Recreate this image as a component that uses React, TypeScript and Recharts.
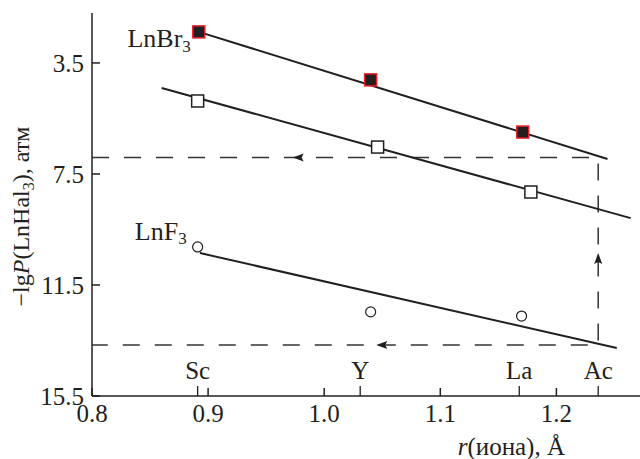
import { Scatter, ScatterChart, XAxis, YAxis } from "recharts";

const FONT = "Liberation Serif, Times New Roman, serif";
const INK = "#231f20";
const RED = "#e8202a";

// measured points, x = ionic radius (Å), y = -lgP
const brX = [0.892, 1.04, 1.171];
const brY = [2.38, 4.11, 5.99];
const openX = [0.891, 1.046, 1.178];
const openY = [4.87, 6.53, 8.15];
const fX = [0.891, 1.04, 1.17];
const fY = [10.13, 12.47, 12.62];

// straight-line fits, end points
const brFitX = [0.892, 1.244];
const brFitY = [2.38, 6.96];
const openFitX = [0.86, 1.264];
const openFitY = [4.4, 9.09];
const fFitX = [0.893, 1.252];
const fFitY = [10.35, 13.77];

// element radii marked on the x axis
const elements = ["Sc", "Y", "La", "Ac"];
const elementR = [0.891, 1.031, 1.168, 1.236];

// extrapolation for Ac (dashed guide)
const acBr = 6.91;
const acF = 13.66;
const arrowX = [0.978, 1.05, 1.236];
const arrowY = [6.91, 13.66, 10.56];
const arrowDir = ["left", "left", "up"];

const xTicks = [0.8, 0.9, 1.0, 1.1, 1.2];
const yTicks = [3.5, 7.5, 11.5, 15.5];

const zip = (xs: number[], ys: number[]) => xs.map((x, i) => ({ x, y: ys[i] }));

const brPts = zip(brX, brY);
const openPts = zip(openX, openY);
const fPts = zip(fX, fY);
const acR = elementR[3];
const guidePts = zip([0.8, acR, acR, 0.8], [acBr, acBr, acF, acF]);
const elementPts = elements.map((name, i) => ({ x: elementR[i], y: yTicks[yTicks.length - 1], name }));
const arrowPts = arrowX.map((x, i) => ({ x, y: arrowY[i], dir: arrowDir[i] }));

const none = () => <g />;

function FilledSquare(p: any) {
  return <rect x={p.cx - 6} y={p.cy - 6} width={12} height={12} fill={INK} stroke={RED} strokeWidth={1.5} />;
}
function OpenSquare(p: any) {
  return <rect x={p.cx - 6} y={p.cy - 6} width={12} height={12} fill="#fff" stroke={INK} strokeWidth={1.5} />;
}
function OpenCircle(p: any) {
  return <circle cx={p.cx} cy={p.cy} r={5} fill="#fff" stroke={INK} strokeWidth={1.2} />;
}

function ElementTick(p: any) {
  return (
    <g>
      <line x1={p.cx} x2={p.cx} y1={p.cy} y2={p.cy - 10} stroke={INK} strokeWidth={1.3} />
      <text x={p.cx} y={p.cy - 17} textAnchor="middle" style={{ fontFamily: FONT }} fontSize={25} fill={INK}>
        {p.payload.name}
      </text>
    </g>
  );
}

function Arrow(p: any) {
  const { cx, cy } = p;
  const d = p.payload.dir === "up"
    ? `M${cx},${cy - 6} L${cx + 4},${cy + 5} L${cx},${cy + 3} L${cx - 4},${cy + 5} Z`
    : `M${cx - 6},${cy} L${cx + 5},${cy - 4} L${cx + 3},${cy} L${cx + 5},${cy + 4} Z`;
  return <path d={d} fill={INK} />;
}

function BrLabel(p: any) {
  return (
    <text x={p.cx - 8} y={p.cy + 15} textAnchor="end" style={{ fontFamily: FONT }} fontSize={26} fill={INK}>
      LnBr<tspan fontSize={17} dy={5}>3</tspan>
    </text>
  );
}
function FLabel(p: any) {
  return (
    <text x={p.cx - 11} y={p.cy - 7} textAnchor="end" style={{ fontFamily: FONT }} fontSize={26} fill={INK}>
      LnF<tspan fontSize={17} dy={4}>3</tspan>
    </text>
  );
}

function YTitle({ viewBox }: any) {
  const cx = viewBox.x + 29;
  const cy = viewBox.y + viewBox.height / 2 + 12;
  return (
    <text x={cx} y={cy} transform={`rotate(-90 ${cx} ${cy})`} textAnchor="middle"
      style={{ fontFamily: FONT }} fontSize={24} fill={INK}>
      −lg<tspan fontStyle="italic">P</tspan>(LnHal<tspan fontSize={16} dy={5}>3</tspan>
      <tspan dy={-5}>), атм</tspan>
    </text>
  );
}

function XTitle({ viewBox }: any) {
  return (
    <text x={viewBox.x + viewBox.width - 75} y={viewBox.y + 59} textAnchor="end"
      style={{ fontFamily: FONT }} fontSize={25} fill={INK}>
      <tspan fontStyle="italic">r</tspan>(иона), Å
    </text>
  );
}

const tickStyle = { fontSize: 25, fill: INK, fontFamily: FONT, style: { fontFamily: FONT } };

export default function App() {
  return (
    <div style={{ width: 640, height: 459, background: "#fff", fontFamily: FONT }}>
      <style>{"body{margin:0} svg text{font-family:'Liberation Serif','Times New Roman',serif}"}</style>
      <ScatterChart width={640} height={459} margin={{ top: 13, right: 0, bottom: 0, left: 0 }}
        style={{ fontFamily: FONT }}>
        <XAxis type="number" dataKey="x" domain={[0.8, 1.272]} ticks={xTicks} interval={0}
          allowDataOverflow tickFormatter={(v) => v.toFixed(1)} height={63}
          stroke={INK} strokeWidth={1.5} tickSize={-8} tickMargin={16} tick={tickStyle}
          label={{ content: (p: any) => <XTitle {...p} /> }} />
        <YAxis type="number" dataKey="y" domain={[1.7, 15.5]} reversed ticks={yTicks} interval={0}
          allowDataOverflow width={92} stroke={INK} strokeWidth={1.5} tickSize={-8} tickMargin={16}
          tick={tickStyle} label={{ content: (p: any) => <YTitle {...p} /> }} />

        <Scatter data={guidePts} isAnimationActive={false} shape={none}
          line={{ stroke: "#333", strokeWidth: 1.5, strokeDasharray: "17 15" }} />
        <Scatter data={zip(brFitX, brFitY)} isAnimationActive={false} shape={none}
          line={{ stroke: INK, strokeWidth: 2 }} />
        <Scatter data={zip(openFitX, openFitY)} isAnimationActive={false} shape={none}
          line={{ stroke: INK, strokeWidth: 2 }} />
        <Scatter data={zip(fFitX, fFitY)} isAnimationActive={false} shape={none}
          line={{ stroke: INK, strokeWidth: 2 }} />

        <Scatter data={arrowPts} isAnimationActive={false} shape={Arrow} />
        <Scatter data={elementPts} isAnimationActive={false} shape={ElementTick} />

        <Scatter data={brPts} isAnimationActive={false} shape={FilledSquare} />
        <Scatter data={openPts} isAnimationActive={false} shape={OpenSquare} />
        <Scatter data={fPts} isAnimationActive={false} shape={OpenCircle} />
        <Scatter data={[brPts[0]]} isAnimationActive={false} shape={BrLabel} />
        <Scatter data={[fPts[0]]} isAnimationActive={false} shape={FLabel} />
      </ScatterChart>
    </div>
  );
}
